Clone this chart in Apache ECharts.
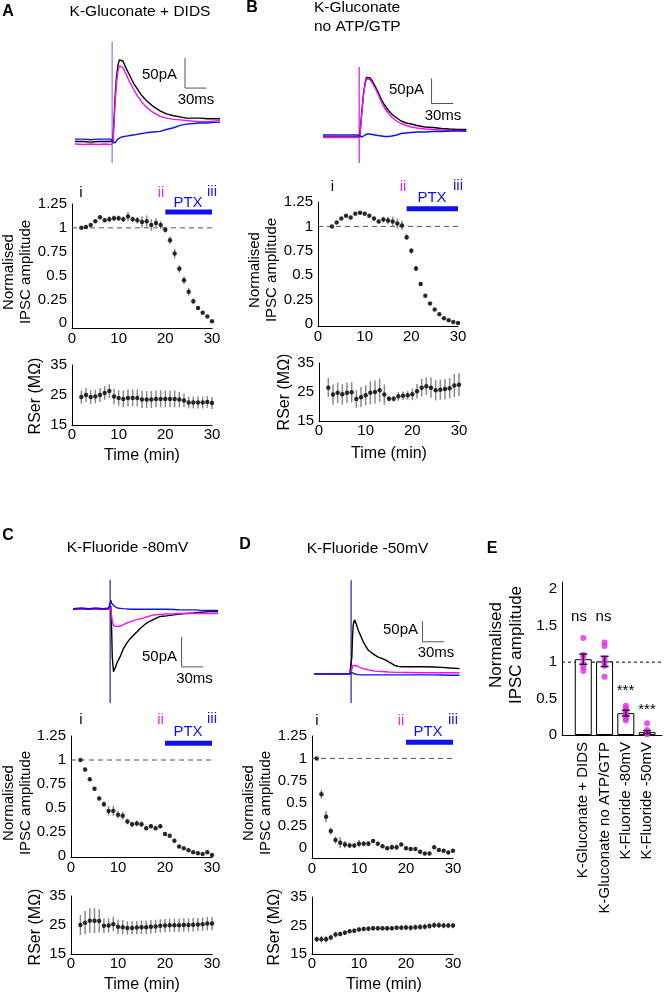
<!DOCTYPE html>
<html><head><meta charset="utf-8">
<script src="https://cdn.jsdelivr.net/npm/echarts@6/dist/echarts.min.js"></script>
<style>html,body{margin:0;padding:0;background:#fff}#c{width:668px;height:996px}</style>
</head><body><div id="c"></div>
<script>
const FONT = "'Liberation Sans', Arial, Helvetica, sans-serif";

// ===== minutes =====
const min2to30 = [2,3,4,5,6,7,8,9,10,11,12,13,14,15,16,17,18,19,20,21,22,23,24,25,26,27,28,29,30];
const min3to30 = [3,4,5,6,7,8,9,10,11,12,13,14,15,16,17,18,19,20,21,22,23,24,25,26,27,28,29,30];
const min1to30 = [1,2,3,4,5,6,7,8,9,10,11,12,13,14,15,16,17,18,19,20,21,22,23,24,25,26,27,28,29,30];
const timeTicks = [0,10,20,30];
const normTicks = [0,0.25,0.5,0.75,1,1.25];
const rserTicks = [15,25,35];

// ===== Panel A =====
const traceTimeA = [-52,-40,-30,-20,-10,-2,0,1,2,4,6,8,10,12,15,20,25,30,35,40,45,50,58,67,76,86,95,104,114,123,133,142,151];
const traceA_i   = [-1,-1,-2,-1,-1,-1,-1,0,20,70,105,125,135,138,133,120,108,96,87,78,71,65,57,50,45,42,40,38,38,38,37,37,37];
const traceA_ii  = [-5,-6,-5,-6,-5,-6,-6,-4,15,60,95,115,125,127,122,110,97,86,76,67,60,54,47,41,38,36,35,34,33,32,32,33,34];
const traceA_iii = [3,3,2,3,3,3,2,-2,-4,-3,0,3,5,6,7,8,9,10,11,12,13,14,15,16,19,22,26,28,29,30,30,31,31];
const stimA = [-37,165];
const scaleA = [[102,138],[102,88],[132,88]];
const normA = [1.00,1.01,1.03,1.07,1.11,1.08,1.09,1.10,1.10,1.09,1.12,1.09,1.08,1.06,1.07,1.03,1.05,1.03,0.98,0.87,0.73,0.57,0.45,0.33,0.23,0.16,0.11,0.07,0.02];
const normA_err = [0,0.01,0.01,0.015,0.02,0.02,0.03,0.03,0.03,0.03,0.05,0.03,0.035,0.06,0.06,0.06,0.05,0.04,0.03,0.04,0.05,0.04,0.04,0.04,0.03,0.02,0.015,0.01,0.01];
const rserA = [24.3,25.0,24.3,24.5,25.0,25.7,26.3,24.5,24.0,23.7,24.0,24.0,24.0,23.5,23.5,23.5,23.7,23.7,23.7,23.7,23.7,23.5,23.2,22.5,22.5,22.5,22.5,22.7,22.3];
const rserA_err = [2.2,2.3,2.3,2.3,2.3,2.3,2.3,2.6,2.6,2.8,2.8,2.8,2.8,2.8,2.8,2.8,2.8,2.8,2.8,2.8,2.8,2.6,2.3,2.0,2.0,2.0,2.0,2.0,2.0];
const ptxA = [20,30];

// ===== Panel B =====
const traceTimeB = [-50,-40,-30,-20,-10,-2,0,1,2,4,6,8,10,12,15,18,22,26,31,35,40,45,49,54,58,65,72,80,91,102,114,125,137,148];
const traceB_i   = [-2,-2,-2,-2,-2,-2,-2,0,20,55,85,105,117,120,116,110,100,88,72,62,52,44,39,34,30,26,24,21,18,17,15,14,13,13];
const traceB_ii  = [-3,-3,-3,-3,-3,-3,-3,-1,18,52,82,102,114,117,113,106,96,84,67,56,46,38,33,28,25,21,18,16,14,13,12,11,11,10];
const traceB_iii = [2,2,2,2,2,2,2,0,-2,-2,0,2,3,4,4,3,2,1,0,-1,-1,0,1,3,5,6,7,8,8,9,9,10,10,10];
const stimB = [-54,138];
const scaleB = [[100,115],[100,65],[130,65]];
const normB = [1.00,1.04,1.08,1.11,1.09,1.13,1.14,1.13,1.11,1.08,1.05,1.07,1.06,1.05,1.03,1.01,0.89,0.75,0.57,0.41,0.29,0.21,0.15,0.10,0.06,0.04,0.02,0.01];
const normB_err = [0,0.01,0.01,0.01,0.01,0.01,0.015,0.01,0.01,0.02,0.02,0.03,0.04,0.05,0.05,0.05,0.03,0.03,0.03,0.02,0.015,0.01,0.01,0.01,0.01,0.01,0.01,0.01];
const rserB = [26.5,24.1,24.7,24.2,24.7,24.9,22.6,23.2,23.9,24.7,25.0,25.6,24.1,22.7,22.7,23.5,23.7,23.9,24.2,25.3,26.5,27.0,26.5,25.6,25.8,26.0,26.3,27.2,27.5];
const rserB_err = [3.3,3.5,3.5,3.5,3.5,3.5,3.0,3.5,3.5,4.0,4.0,4.0,3.5,1.0,1.0,1.5,1.5,1.5,2.0,2.5,3.0,3.0,3.5,3.5,3.5,3.5,3.5,4.0,4.0];
const ptxB = [19,30];

// ===== Panel C =====
const traceTimeC = [-52,-40,-30,-20,-10,-2,0,1,2,3,4.7,6,8,10,14,18,23,28,33,38,42,47,51,56,61,70,79,89,98,107,117,126,138,151];
const traceC_i   = [0,0,0,0,0,0,0,5,-30,-80,-104,-102,-95,-88,-79,-67,-57,-49,-43,-37,-32,-27,-23,-20,-17,-12,-11,-9.5,-8,-7,-6,-5,-4,-4];
const traceC_ii  = [1,0,1,0,1,0,0,3,-10,-20,-27,-29,-29,-28.5,-28,-26,-23,-21,-19,-17,-16,-14.5,-13,-11,-9.5,-8.5,-8,-7.5,-7,-7,-7,-7,-7,-7];
const traceC_iii = [1,2,1,2,1,2,2,15,10,8,7,5,3,2,1.5,1,0.5,0,0,0,0,0,0,0,0,0,0,-0.5,-1,-1,-1,-1.5,-2,-2];
const stimC = [-156,49];
const scaleC = [[100,-46],[100,-96],[130,-96]];
const normC = [1.00,0.90,0.80,0.70,0.60,0.54,0.47,0.47,0.43,0.42,0.36,0.33,0.34,0.33,0.29,0.31,0.29,0.31,0.23,0.21,0.16,0.10,0.08,0.06,0.04,0.03,0.02,0.04,0.01];
const normC_err = [0,0.02,0.02,0.02,0.02,0.03,0.05,0.05,0.04,0.04,0.03,0.03,0.03,0.03,0.02,0.02,0.02,0.02,0.02,0.02,0.02,0.015,0.01,0.01,0.01,0.01,0.01,0.015,0.01];
const rserC = [25.0,25.8,26.5,26.5,26.4,24.7,24.8,25.3,24.4,24.2,24.0,24.0,24.1,24.2,24.2,24.4,24.5,24.7,24.8,24.9,24.9,24.9,25.0,25.0,25.1,25.2,25.3,25.5,25.5];
const rserC_err = [3.5,4.0,4.3,4.3,4.0,2.5,2.5,2.5,2.5,2.5,2.3,2.3,2.3,2.3,2.3,2.3,2.3,2.3,2.3,2.3,2.3,2.3,2.3,2.3,2.3,2.3,2.3,2.3,2.3];
const ptxC = [20,30];

// ===== Panel D =====
const traceTimeD = [-52,-40,-30,-20,-10,-2,0,1,2,3,4.7,7,10,14,17,21,24,29,34,38,43,48,52,57,62,66,71,78,85,95,104,115,127,139,152];
const traceD_i   = [0,0,0,0,0,0,0,40,90,120,131,122,106,90,78,66,58,51,45,41,38,34,30,25,20,18.5,17.7,17.7,17.7,17.5,17.5,17,16,14.5,13];
const traceD_ii  = [0,1,0,1,0,1,0,10,20,24,23,21,18,15,13,11.5,10,8.5,7,6.5,6,5.5,5,4.5,4,4,4,3.5,3.5,3,3,3,3,3,3];
const traceD_iii = [1,0,1,0,1,0,0,4,6,3,0,-1,-1.5,-2,-2,-2,-2,-2,-2,-2,-2,-2,-2,-2,-2,-2,-2,-2,-2,-2,-2,-2,-2.5,-3,-3];
const stimD = [-70,227];
const scaleD = [[100,128],[100,78],[130,78]];
const normD = [1.00,0.60,0.35,0.19,0.09,0.06,0.04,0.03,0.03,0.05,0.05,0.05,0.08,0.05,0.02,0.00,0.01,0.01,0.04,0.00,-0.01,-0.01,-0.04,-0.06,-0.06,0.01,-0.02,-0.03,-0.05,-0.03];
const normD_err = [0,0.05,0.06,0.04,0.04,0.06,0.04,0.03,0.03,0.04,0.03,0.03,0.02,0.02,0.02,0.02,0.03,0.03,0.02,0.02,0.02,0.02,0.02,0.02,0.02,0.02,0.02,0.02,0.02,0.02];
const rserD = [20.2,20.2,20.2,20.8,21.8,22.0,22.5,23.0,23.2,23.6,23.8,23.9,24.0,24.0,24.0,24.0,24.0,24.2,24.2,24.3,24.2,24.4,24.5,24.6,24.8,25.1,25.1,25.0,25.0,25.0];
const rserD_err = [1.0,1.2,1.2,1.0,1.0,0.8,0.8,0.8,0.8,0.8,0.8,0.8,0.8,0.8,0.8,0.8,0.8,0.8,0.8,1.0,1.0,1.0,1.0,1.0,1.0,1.0,1.0,1.0,1.0,1.0];
const ptxD = [20,30];

// ===== Panel E =====
const catsE = ['K-Gluconate + DIDS','K-Gluconate no ATP/GTP','K-Fluoride -80mV','K-Fluoride -50mV'];
const catPosE = [1,2,3,4];
const meanE = [1.04,1.01,0.30,0.04];
const semE = [0.07,0.07,0.04,0.02];
const cellsE = [
  [1.33,1.10,1.06,0.98,0.93,0.88],
  [1.27,1.22,1.05,1.00,0.95,0.80],
  [0.40,0.37,0.33,0.30,0.27,0.23,0.20],
  [0.16,0.07,0.04,0.02,0.01]
];
const eTicks = [0,0.5,1,1.5,2];

// ===== builders =====
const grids=[], xAxes=[], yAxes=[], series=[], graphic=[];
function addGrid(l,t,w,h,xa,ya){
  grids.push({left:l, top:t, width:w, height:h});
  const i = grids.length-1;
  xAxes.push(Object.assign({gridIndex:i}, xa));
  yAxes.push(Object.assign({gridIndex:i}, ya));
  return i;
}
const hidden = (min,max)=>({type:'value', min, max, show:false, splitLine:{show:false}});
function valAxis(min,max,ticks,margin,extra){
  return Object.assign({type:'value', min, max,
    axisLine:{show:true,onZero:false,lineStyle:{color:'#000',width:1}},
    axisTick:{show:false}, splitLine:{show:false},
    axisLabel:{customValues:ticks, color:'#000', fontSize:15, fontFamily:FONT, margin}}, extra||{});
}
function text(x,y,str,o){
  o=o||{};
  graphic.push({type:'text', x, y, rotation:o.rot||0, z:100, silent:true,
    style:{text:str, fill:o.color||'#000', font:(o.bold?'bold ':'')+(o.size||15)+'px '+FONT,
      textAlign:o.align||'center', textVerticalAlign:'middle', align:o.align||'center', verticalAlign:'middle', lineHeight:o.lh||18}});
}
function line(gi, pts, color, width, dash, z){
  series.push({type:'line', xAxisIndex:gi, yAxisIndex:gi, data:pts, showSymbol:false, symbol:'none',
    lineStyle:{color, width, type:dash||'solid', cap:'butt'}, clip:false, silent:true, z:z||2});
}
function dots(gi, xs, ys, color, size){
  series.push({type:'scatter', xAxisIndex:gi, yAxisIndex:gi, data:xs.map((x,i)=>[x,ys[i]]),
    symbolSize:size, itemStyle:{color}, z:4, silent:true});
}
function errs(gi, xs, ys, es, color, width, cap, z){
  series.push({type:'custom', xAxisIndex:gi, yAxisIndex:gi,
    data:xs.map((x,i)=>[x, ys[i]-es[i], ys[i]+es[i]]), encode:{x:0,y:[1,2]},
    renderItem:(p,api)=>{
      const a=api.coord([api.value(0),api.value(1)]), b=api.coord([api.value(0),api.value(2)]);
      const st={stroke:color,lineWidth:width};
      const ch=[{type:'line',shape:{x1:a[0],y1:a[1],x2:b[0],y2:b[1]},style:st}];
      if(cap){
        ch.push({type:'line',shape:{x1:a[0]-cap,y1:a[1],x2:a[0]+cap,y2:a[1]},style:st});
        ch.push({type:'line',shape:{x1:b[0]-cap,y1:b[1],x2:b[0]+cap,y2:b[1]},style:st});
      }
      return {type:'group',children:ch};
    }, z:z||3, silent:true, clip:false});
}

const MAG='#f010f0', BLU='#1010f0';

function panel(c){
  // traces
  const gt = addGrid(c.tr[0],c.tr[1],c.tr[2],c.tr[3], hidden(c.tx[0],c.tx[1]), hidden(c.ty[0],c.ty[1]));
  line(gt, [[0,c.stim[0]],[0,c.stim[1]]], c.stimColor, 1.3, 'solid', 1);
  line(gt, c.t.map((x,i)=>[x,c.i[i]]), '#000', 1.4);
  line(gt, c.t.map((x,i)=>[x,c.ii[i]]), MAG, 1.4);
  line(gt, c.t.map((x,i)=>[x,c.iii[i]]), BLU, 1.4);
  line(gt, c.scale, '#555', 1);
  // normalised
  const gn = addGrid(c.nr[0],c.nr[1],c.nr[2],c.nr[3], valAxis(0,30,timeTicks,3), valAxis(c.nmin,1.25,normTicks,5));
  line(gn, [[0,1],[33.5,1]], '#555', 1, [5,4], 1);
  line(gn, [[c.ptx[0],c.ptxY],[c.ptx[1],c.ptxY]], BLU, 5, 'solid', 5);
  errs(gn, c.nx, c.norm, c.normErr, '#8a8a8a', 1.5, 0);
  dots(gn, c.nx, c.norm, '#000', 4.5);
  // rser
  const gr = addGrid(c.rr[0],c.rr[1],c.rr[2],c.rr[3], valAxis(0,30,timeTicks,2), valAxis(15,35,rserTicks,5));
  errs(gr, c.rx, c.rser, c.rserErr, '#8a8a8a', 1.5, 0);
  dots(gr, c.rx, c.rser, '#000', 4.5);
}

panel({tr:[75,40,145,125], tx:[-52,151], ty:[-40,168], stim:stimA, stimColor:'#8585e6',
  t:traceTimeA, i:traceA_i, ii:traceA_ii, iii:traceA_iii, scale:scaleA,
  nr:[72,204,140,124], nmin:-0.05, ptx:ptxA, ptxY:1.165, nx:min2to30, norm:normA, normErr:normA_err,
  rr:[72,365,140,60], rx:min2to30, rser:rserA, rserErr:rserA_err});
panel({tr:[323,60,144,105], tx:[-50,149], ty:[-58,152], stim:stimB, stimColor:'#e020e0',
  t:traceTimeB, i:traceB_i, ii:traceB_ii, iii:traceB_iii, scale:scaleB,
  nr:[318,202,140,124], nmin:-0.02, ptx:ptxB, ptxY:1.18, nx:min3to30, norm:normB, normErr:normB_err,
  rr:[319,363,140,58], rx:min2to30, rser:rserB, rserErr:rserB_err});
panel({tr:[73,578,145,127], tx:[-52,151], ty:[-159.5,52], stim:stimC, stimColor:'#3535a8',
  t:traceTimeC, i:traceC_i, ii:traceC_ii, iii:traceC_iii, scale:scaleC,
  nr:[71,736,141,121], nmin:-0.01, ptx:ptxC, ptxY:1.175, nx:min2to30, norm:normC, normErr:normC_err,
  rr:[71,896,141,58], rx:min2to30, rser:rserC, rserErr:rserC_err});
panel({tr:[314,578,146,127], tx:[-52,152.6], ty:[-75,232.4], stim:stimD, stimColor:'#3535a8',
  t:traceTimeD, i:traceD_i, ii:traceD_ii, iii:traceD_iii, scale:scaleD,
  nr:[312,736,141,122], nmin:-0.11, ptx:ptxD, ptxY:1.18, nx:min1to30, norm:normD, normErr:normD_err,
  rr:[312,897,141,57], rx:min1to30, rser:rserD, rserErr:rserD_err});

// Panel E
const ge = addGrid(562,582,100,153,
  valAxis(0,4.7,catPosE,7,{axisLabel:{customValues:catPosE, rotate:90, color:'#000', fontSize:15, fontFamily:FONT, margin:7, formatter:(v)=>catsE[Math.round(v)-1]}}),
  valAxis(0,2.1,eTicks,5));
series.push({type:'bar', xAxisIndex:ge, yAxisIndex:ge, data:catPosE.map((x,i)=>[x,meanE[i]]), barWidth:17,
  itemStyle:{color:'#fff', borderColor:'#000', borderWidth:1}, z:2, silent:true});
line(ge, [[0,1],[5.05,1]], '#000', 1, [3,3], 1);
const eX=[], eY=[];
cellsE.forEach((arr,k)=>arr.forEach(v=>{eX.push(catPosE[k]); eY.push(v);}));
dots(ge, eX, eY, '#ee22ee', 6);
errs(ge, catPosE, meanE, semE, '#2a1a3a', 1.5, 4, 6);

// ===== texts =====
const L={bold:true,size:16};
text(8,12,'A',L); text(252,8,'B',L); text(8,536,'C',L); text(245,545,'D',L); text(492,549,'E',L);
text(140,12,'K-Gluconate + DIDS',{size:15.5});
text(314,8,'K-Gluconate',{size:15.5,align:'left'});
text(314,27,'no ATP/GTP',{size:15.5,align:'left'});
text(127.5,548,'K-Fluoride -80mV',{size:15.5});
text(367.5,549,'K-Fluoride -50mV',{size:15.5});
// scale bar labels
text(177,75,'50pA',{align:'right'}); text(196,100,'30ms');
text(424,90,'50pA',{align:'right'}); text(443,116,'30ms');
text(177,657,'50pA',{align:'right'}); text(194.5,679,'30ms');
text(418,630,'50pA',{align:'right'}); text(436,653,'30ms');
// i ii iii / PTX
const romans=[[81,193,161,212,193,188,202.5],[332.5,187,403,458,187,432,197.5],[81,720,160.5,212,720,188,732],[317,721,401,453,721,428,732]];
romans.forEach(r=>{
  text(r[0],r[1],'i'); text(r[2],r[4],'ii',{color:'#e030e0'}); text(r[3],r[4]-1,'iii',{color:'#2020c0'});
  text(r[5],r[6],'PTX',{color:BLU});
});
// axis names
const R=Math.PI/2;
text(17.5,272,'Normalised\nIPSC amplitude',{rot:R,lh:17});
text(263,270,'Normalised\nIPSC amplitude',{rot:R,lh:17});
text(17.5,803,'Normalised\nIPSC amplitude',{rot:R,lh:17});
text(257,803,'Normalised\nIPSC amplitude',{rot:R,lh:17});
text(506,645,'Normalised\nIPSC amplitude',{rot:R,lh:20,size:17});
text(36,396,'RSer (MΩ)',{rot:R,size:16});
text(284.5,392,'RSer (MΩ)',{rot:R,size:16});
text(36,927,'RSer (MΩ)',{rot:R,size:16});
text(275,927,'RSer (MΩ)',{rot:R,size:16});
text(142,456,'Time (min)',{size:16});
text(389,454,'Time (min)',{size:16});
text(142,985,'Time (min)',{size:16});
text(384,985,'Time (min)',{size:16});
// significance
text(579,617,'ns'); text(603.5,617,'ns');
text(625.5,691,'***'); text(647,710,'***');

const chart = echarts.init(document.getElementById('c'), null, {renderer:'canvas'});
chart.setOption({animation:false, backgroundColor:'#fff', grid:grids, xAxis:xAxes, yAxis:yAxes, series, graphic});
</script>
</body></html>
